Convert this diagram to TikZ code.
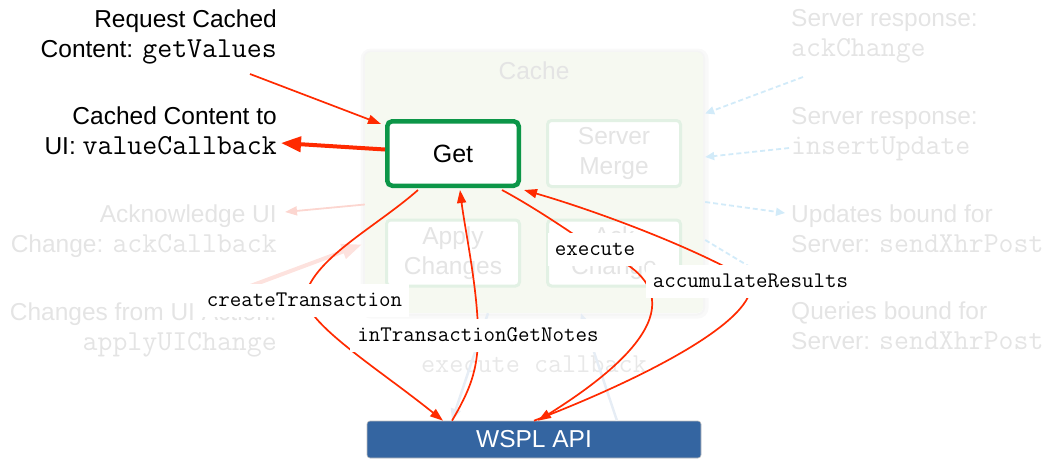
\documentclass[tikz,border=0pt]{standalone}
\usepackage{fontspec}
\setmainfont{Liberation Sans}
\usetikzlibrary{arrows.meta}
\definecolor{redc}{RGB}{255,42,0}
\definecolor{getgreen}{RGB}{12,150,72}
\definecolor{fainttext}{RGB}{228,228,228}
\definecolor{faintbox}{RGB}{226,241,228}
\definecolor{cachefill}{RGB}{246,249,241}
\definecolor{wsplblue}{RGB}{52,101,161}
\definecolor{faintblue}{RGB}{210,235,249}
\definecolor{faintpink}{RGB}{252,214,208}
\definecolor{faintline}{RGB}{230,237,245}
\pgfdeclarelayer{bg}
\pgfdeclarelayer{mid}
\pgfsetlayers{bg,mid,main}
\newcommand\mytt[1]{{\fontsize{29}{30}\selectfont\ttfamily #1}}
\tikzset{
  mtext/.style={font=\fontsize{24.5}{30}\selectfont, inner sep=0pt},
  ftext/.style={mtext, text=fainttext},
  cbox/.style={draw=faintbox, line width=3pt, fill=white, rounded corners=4pt,
    minimum width=133pt, minimum height=66pt, inner sep=0pt, align=center,
    text=fainttext, font=\fontsize{24.5}{30}\selectfont},
  lbl/.style={fill=white, inner xsep=7pt, minimum height=33pt, inner ysep=0pt,
    font=\fontsize{22.3}{24}\selectfont\ttfamily},
  redline/.style={draw=redc, line width=1.7pt},
  redarr/.style={redline, -{Triangle[length=13pt,width=9pt]}},
  bigred/.style={draw=redc, line width=4pt, -{Triangle[length=20pt,width=15pt]}},
  bluedash/.style={draw=faintblue, line width=1.8pt, dash pattern=on 5pt off 3pt,
    -{Triangle[length=9pt,width=8pt]}},
  pinkthin/.style={draw=faintpink, line width=1.8pt, -{Triangle[length=12pt,width=9pt]}},
  pinkthick/.style={draw=faintpink!70, line width=4pt, -{Triangle[length=20pt,width=15pt]}},
  faintarr/.style={draw=faintline, line width=2.5pt, -{Triangle[length=12pt,width=10pt]}},
}
\begin{document}
\begin{tikzpicture}[x=1pt,y=-1pt]
\useasboundingbox (0,0) rectangle (1045,459);

\begin{pgfonlayer}{bg}
  % soft shadow of cache panel
  \draw[black!2.5, line width=5pt, rounded corners=8pt] (363,51) rectangle (706,316);
  \draw[black!4, line width=2pt, rounded corners=7pt] (364,51.5) rectangle (704,314.5);
  \node[fill=cachefill, rounded corners=6pt, minimum width=338pt, minimum height=261pt,
    inner sep=0pt] (cache) at (534,182.5) {};
  \node[ftext] (cachelbl) at (534,71) {Cache};
  \node[draw=getgreen, line width=4.5pt, fill=white, rounded corners=5pt,
    minimum width=131.5pt, minimum height=64.5pt, inner sep=0pt,
    font=\fontsize{25}{30}\selectfont] (get) at (453,153.5) {Get};
  \node[cbox] (merge) at (614,153.5) {Server\\Merge};
  \node[cbox] (apply) at (453,253) {Apply\\Changes};
  \node[cbox] (ackch) at (614,253) {Ack\\Change};
  \node[draw=black!25, line width=0.6pt, fill=wsplblue, rounded corners=3pt,
    minimum width=334pt, minimum height=37pt, inner sep=0pt, text=white,
    font=\fontsize{24.5}{30}\selectfont] (wspl) at (534,439.5) {WSPL API};

  % left texts
  \node[mtext, anchor=east, align=right] (req) at (277,36.5)
    {Request Cached\\Content: \mytt{getValues}};
  \node[mtext, anchor=east, align=right] (cached) at (277,130.5)
    {Cached Content to\\UI: \mytt{valueCallback}};
  \node[ftext, anchor=east, align=right] (ackui) at (277,231.5)
    {Acknowledge UI\\Change: \mytt{ackCallback}};
  \node[ftext, anchor=east, align=right] (chui) at (277,330)
    {Changes from UI Action:\\\mytt{applyUIChange}};
  % right texts
  \node[ftext, anchor=west, align=left] (srvack) at (791,36)
    {Server response:\\\mytt{ackChange}};
  \node[ftext, anchor=west, align=left] (srvins) at (791,134)
    {Server response:\\\mytt{insertUpdate}};
  \node[ftext, anchor=west, align=left] (upd) at (791,228.5)
    {Updates bound for\\Server: \mytt{sendXhrPost}};
  \node[ftext, anchor=west, align=left] (qry) at (791,326)
    {Queries bound for\\Server: \mytt{sendXhrPost}};
  % faint execute / callback
  \node[inner sep=0pt, text=black!9, font=\fontsize{27.4}{30}\selectfont\ttfamily]
    (execcb) at (534,364) {execute callback};
  \draw[faintarr] ([xshift=-46pt]cache.south) -- ([xshift=-82pt]wspl.north);
  \draw[faintarr] ([xshift=83pt]wspl.north) -- ([xshift=47pt]cache.south);

  % faint server arrows
  \coordinate (p1) at (803,77);
  \coordinate (p2) at (789,148);
  \coordinate (p3) at (785,213);
  \coordinate (p4) at (775,282);
  \draw[bluedash] (p1) -- ([shift={(2,-69)}]cache.east);
  \draw[bluedash] (p2) -- ([shift={(2,-25.5)}]cache.east);
  \draw[bluedash] ([shift={(2,19.5)}]cache.east) -- (p3);
  \draw[bluedash] ([shift={(2,57.5)}]cache.east) -- (p4);
\end{pgfonlayer}

% labels on the red curves
\node[lbl] (ct) at (304.5,300) {createTransaction};
\node[lbl] (itg) at (478,335) {inTransactionGetNotes};
\node[lbl] (ex) at (595,249) {execute};
\node[lbl] (acc) at (750.5,281) {accumulateResults};

\begin{pgfonlayer}{mid}
  \coordinate (ackpt) at (285,212);
  \coordinate (chstart) at (245,288);
  \draw[pinkthin] ([shift={(0,22)}]cache.west) -- (ackpt);
  \draw[pinkthick] (chstart) -- ([shift={(-3,62)}]cache.west);

  \coordinate (reqpt) at (250,74);
  \coordinate (valpt) at (281,143);
  \draw[redarr] (reqpt) -- ([shift={(-4,5)}]get.north west);
  \draw[bigred] ([shift={(0,-4)}]get.west) -- (valpt);

  \draw[redarr] ([shift={(-35,2)}]get.south) .. controls (375,228) and (310,260) .. (ct.center)
     .. controls (315,330) and (380,370) .. ([shift={(-91,0)}]wspl.north);
  \draw[redarr] ([shift={(-82,0)}]wspl.north) .. controls (470,390) and (478,370) .. (itg.center)
     .. controls (478,290) and (465,230) .. ([shift={(7,2)}]get.south);
  \draw[redarr] ([shift={(49,2)}]get.south) .. controls (530,205) and (565,228) .. (ex.center)
     .. controls (680,280) and (675,335) .. ([shift={(4,0)}]wspl.north);
  \draw[redarr] (wspl.north) .. controls (640,380) and (760,320) .. (acc.center)
     .. controls (700,250) and (600,212) .. ([shift={(3,2)}]get.south east);
\end{pgfonlayer}
\end{tikzpicture}
\end{document}
